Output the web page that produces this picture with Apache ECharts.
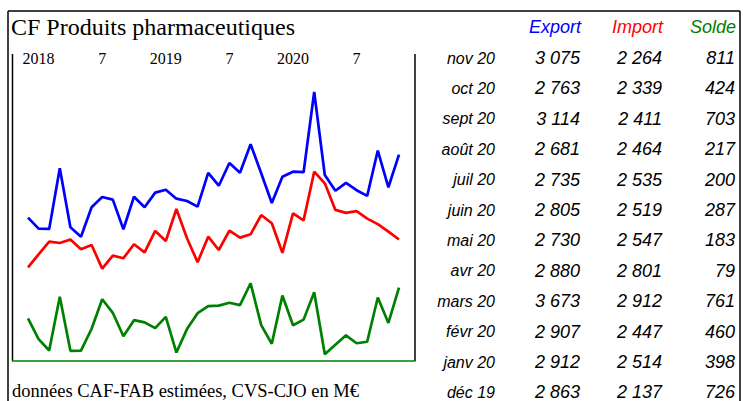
<!DOCTYPE html>
<html>
<head>
<meta charset="utf-8">
<style>
  html, body { margin: 0; padding: 0; background: #fff; }
  #main { width: 743px; height: 401px; }
</style>
<script src="https://cdn.jsdelivr.net/npm/echarts@6/dist/echarts.min.js"></script>
</head>
<body>
<div id="main"></div>
<script>
// mois : déc 2017 -> nov 2020
var categories = [
  '2017-12', '2018-01', '2018-02', '2018-03', '2018-04', '2018-05', '2018-06',
  '2018-07', '2018-08', '2018-09', '2018-10', '2018-11', '2018-12',
  '2019-01', '2019-02', '2019-03', '2019-04', '2019-05', '2019-06',
  '2019-07', '2019-08', '2019-09', '2019-10', '2019-11', '2019-12',
  '2020-01', '2020-02', '2020-03', '2020-04', '2020-05', '2020-06',
  '2020-07', '2020-08', '2020-09', '2020-10', '2020-11'
];
var tickLabels = {
  '2018-01': '2018', '2018-07': '7',
  '2019-01': '2019', '2019-07': '7',
  '2020-01': '2020', '2020-07': '7'
};
var exportValues = [2473, 2368, 2365, 2944, 2381, 2291, 2572, 2670, 2645, 2362, 2673, 2572,
  2712, 2740, 2654, 2632, 2578, 2900, 2778, 2995, 2902, 3174, 2897, 2613,
  2863, 2912, 2907, 3673, 2880, 2730, 2805, 2735, 2681, 3114, 2763, 3075];
var importValues = [1999, 2123, 2244, 2231, 2264, 2171, 2212, 1986, 2110, 2085, 2219, 2142,
  2346, 2250, 2556, 2276, 2047, 2291, 2164, 2349, 2282, 2314, 2498, 2419,
  2137, 2514, 2447, 2912, 2801, 2547, 2519, 2535, 2464, 2411, 2339, 2264];
var soldeValues = [474, 245, 121, 713, 117, 120, 360, 684, 535, 277, 454, 430,
  366, 490, 98, 356, 531, 609, 614, 646, 620, 860, 399, 194,
  726, 398, 460, 761, 79, 183, 287, 200, 217, 703, 424, 811];

// tableau de droite
var tableMonths = ['nov 20', 'oct 20', 'sept 20', 'août 20', 'juil 20', 'juin 20',
  'mai 20', 'avr 20', 'mars 20', 'févr 20', 'janv 20', 'déc 19'];
var tableExport = [3075, 2763, 3114, 2681, 2735, 2805, 2730, 2880, 3673, 2907, 2912, 2863];
var tableImport = [2264, 2339, 2411, 2464, 2535, 2519, 2547, 2801, 2912, 2447, 2514, 2137];
var tableSolde = [811, 424, 703, 217, 200, 287, 183, 79, 761, 460, 398, 726];

var BLUE = '#0000ff', RED = '#ff0000', GREEN = '#008000';
var SERIF = '"Liberation Serif", "DejaVu Serif", serif';
var SANS = '"Liberation Sans", Arial, sans-serif';

function fmt(n) {
  return String(n).replace(/\B(?=(\d{3})+(?!\d))/g, ' ');
}

function line(x1, y1, x2, y2, color, w) {
  return { type: 'line', silent: true, shape: { x1: x1, y1: y1, x2: x2, y2: y2 },
    style: { stroke: color, lineWidth: w } };
}
function text(str, x, y, align, color, font) {
  return { type: 'text', silent: true, x: x, y: y,
    style: { text: str, align: align, verticalAlign: 'middle', fill: color, font: font } };
}

var graphics = [
  // cadre extérieur
  line(8, 11, 740, 11, '#000', 1.5),
  line(8, 11, 8, 401, '#000', 1.5),
  line(740, 11, 740, 401, '#000', 1.5),
  // cadre du graphique
  line(12.5, 54, 12.5, 361, '#000', 1.5),
  line(415, 54, 415, 361, '#000', 1.5),
  line(12, 361, 415.5, 361, GREEN, 1.5),
  text('CF Produits pharmaceutiques', 11, 27, 'left', '#000', '24px ' + SERIF),
  text('données CAF-FAB estimées, CVS-CJO en M€', 12, 391, 'left', '#000', '18.5px ' + SERIF),
  text('Export', 581, 27, 'right', BLUE, 'italic 18px ' + SANS),
  text('Import', 663, 27, 'right', RED, 'italic 18px ' + SANS),
  text('Solde', 736, 27, 'right', GREEN, 'italic 18px ' + SANS)
];
tableMonths.forEach(function (m, k) {
  var y = 58 + k * 30.4;
  graphics.push(text(m, 495, y, 'right', '#000', 'italic 16px ' + SANS));
  graphics.push(text(fmt(tableExport[k]), 580, y, 'right', '#000', 'italic 18px ' + SANS));
  graphics.push(text(fmt(tableImport[k]), 662, y, 'right', '#000', 'italic 18px ' + SANS));
  graphics.push(text(fmt(tableSolde[k]), 735, y, 'right', '#000', 'italic 18px ' + SANS));
});

var myChart = echarts.init(document.getElementById('main'), null, { renderer: 'svg' });
myChart.setOption({
  animation: false,
  grid: { left: 28, right: 344, top: 70, bottom: 40 },
  xAxis: {
    type: 'category',
    position: 'top',
    boundaryGap: false,
    data: categories,
    axisLine: { show: false },
    axisTick: { show: false },
    splitLine: { show: false },
    axisLabel: {
      interval: 0,
      margin: 4,
      hideOverlap: false,
      color: '#000',
      fontFamily: SERIF,
      fontSize: 16,
      formatter: function (v) { return tickLabels[v] || ''; }
    }
  },
  yAxis: [{
    type: 'value', show: false, min: 1104, max: 3883, splitLine: { show: false }
  }, {
    type: 'value', show: false, min: 5, max: 3206, splitLine: { show: false }
  }],
  series: [{
    name: 'Export', type: 'line', data: exportValues, yAxisIndex: 0,
    symbol: 'none', lineStyle: { color: BLUE, width: 2.7 }
  }, {
    name: 'Import', type: 'line', data: importValues, yAxisIndex: 0,
    symbol: 'none', lineStyle: { color: RED, width: 2.7 }
  }, {
    name: 'Solde', type: 'line', data: soldeValues, yAxisIndex: 1,
    symbol: 'none', lineStyle: { color: GREEN, width: 2.7 }
  }],
  graphic: graphics
});
</script>
</body>
</html>
